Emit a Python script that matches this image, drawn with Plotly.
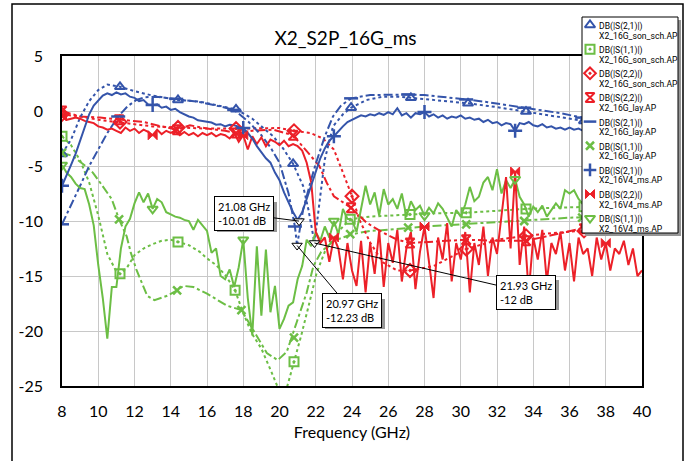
import numpy as np
import plotly.graph_objects as go

BLUE = "rgb(52,84,170)"
GREEN = "rgb(108,190,69)"
RED = "rgb(236,32,40)"

# ---------------- data ----------------
# X2_16G_son_sch.AP  DB(|S(2,1)|)  (blue, dotted)
son_s21_f = [8.0, 8.5, 9.0, 9.5, 10.0, 10.5, 11.2, 12.0, 13.0, 14.4, 15.6, 16.5, 17.6, 18.5, 19.65,
             20.2, 20.75, 21.3, 21.6, 21.93, 22.2, 22.5, 22.95, 23.5, 23.95, 24.8, 25.7, 26.5, 27.25,
             28.5, 30.4, 32.0, 33.6, 35.2, 36.8, 38.4, 40.0]
son_s21_db = [-3.9, -2.6, -0.6, 0.9, 1.9, 2.4, 2.2, 1.8, 1.4, 1.0, 0.85, 0.55, 0.15, -0.7, -2.3,
              -3.4, -4.8, -6.8, -9.0, -12.0, -8.2, -4.4, -1.4, -0.3, 0.3, 1.0, 1.3, 1.3, 1.2,
              1.0, 0.7, 0.35, -0.05, -0.5, -0.9, -1.2, -1.4]
son_s21_mk_f = [8.0, 11.2, 14.4, 17.6, 20.75, 23.95, 27.25, 30.4, 33.6, 36.8]
son_s21_mk_db = [-3.9, 2.2, 1.0, 0.15, -4.8, 0.3, 1.2, 0.7, -0.05, -0.9]

# X2_16G_son_sch.AP  DB(|S(1,1)|)  (green, dotted)
son_s11_f = [8.0, 8.5, 9.0, 9.5, 10.0, 10.5, 11.0, 11.2, 11.6, 12.0, 12.5, 13.0, 13.5, 14.0, 14.4,
             15.0, 15.6, 16.0, 16.5, 17.0, 17.55, 18.0, 18.5, 19.0, 19.5, 20.0, 20.3, 20.6, 20.8,
             21.2, 21.7, 22.05, 22.5, 23.0, 23.5, 23.9, 25.0, 26.0, 27.2, 28.5, 30.3, 32.0, 33.6,
             35.0, 36.8, 38.5, 40.0]
son_s11_db = [-2.3, -3.1, -4.5, -6.5, -9.5, -13.0, -14.6, -14.8, -14.2, -13.1, -12.5, -12.1, -11.8,
              -11.7, -11.9, -12.2, -12.8, -13.4, -14.0, -14.9, -16.3, -18.4, -20.3, -21.6, -23.5,
              -25.5, -25.8, -24.0, -22.8, -20.4, -17.1, -14.7, -12.8, -11.5, -10.5, -9.85, -9.6,
              -9.5, -9.4, -9.3, -9.25, -9.05, -8.9, -8.8, -8.7, -8.65, -8.6]
son_s11_mk_f = [8.0, 11.2, 14.4, 17.55, 20.8, 23.9, 27.2, 30.3, 33.6, 36.8]
son_s11_mk_db = [-2.3, -14.8, -11.9, -16.3, -22.8, -9.85, -9.4, -9.25, -8.9, -8.7]

# X2_16G_son_sch.AP  DB(|S(2,2)|)  (red, dotted)
son_s22_f = [8.0, 9.0, 10.0, 11.2, 12.0, 13.0, 14.4, 16.0, 17.6, 19.0, 20.0, 20.8, 21.7, 22.4, 23.0,
             23.5, 24.0, 24.4, 25.0, 25.7, 26.5, 27.2, 28.5, 30.3, 32.2, 33.6, 35.0, 36.6, 38.0, 40.0]
son_s22_db = [-0.3, -0.5, -0.8, -1.0, -1.2, -1.4, -1.5, -1.6, -1.6, -1.6, -1.55, -1.8, -2.0, -2.5,
              -3.5, -5.6, -7.75, -9.85, -11.95, -13.75, -14.5, -14.5, -14.1, -12.55, -11.65, -11.35,
              -11.1, -10.9, -10.8, -10.6]
son_s22_mk_f = [8.0, 11.2, 14.4, 17.6, 20.8, 24.0, 27.2, 30.3, 33.6, 36.8]
son_s22_mk_db = [-0.3, -1.0, -1.5, -1.6, -1.8, -7.75, -14.5, -12.55, -11.35, -10.9]

# X2_16G_lay.AP  DB(|S(2,2)|)  (red, dash-dot)
lay_s22_f = [8.0, 9.0, 10.1, 11.15, 12.5, 13.5, 14.35, 15.06, 16.0, 17.0, 17.6, 18.5, 19.65, 20.75,
             21.5, 22.2, 22.6, 23.0, 23.95, 24.8, 25.7, 26.5, 27.2, 28.5, 30.3, 32.0, 33.6, 35.0,
             36.6, 38.0, 40.0]
lay_s22_db = [0.0, -0.5, -0.6, -0.8, -1.0, -1.4, -1.7, -1.3, -1.6, -1.8, -2.0, -1.8, -1.7, -2.2,
              -3.6, -5.0, -6.5, -7.75, -8.8, -10.15, -11.05, -11.7, -12.0, -11.9, -11.7, -11.8,
              -11.8, -11.3, -10.7, -10.4, -10.1]
lay_s22_mk_f = [8.0, 11.15, 14.35, 17.6, 20.75, 23.95, 27.2, 30.3, 33.6, 36.8]
lay_s22_mk_db = [0.0, -0.8, -1.7, -2.0, -2.2, -8.8, -12.0, -11.7, -11.8, -10.7]

# X2_16G_lay.AP  DB(|S(2,1)|)  (blue, dash-dot)
lay_s21_f = [8.0, 8.5, 9.0, 9.5, 10.0, 10.5, 11.1, 11.6, 12.1, 12.6, 13.2, 14.3, 15.5, 16.5, 17.5,
             18.3, 19.0, 19.5, 20.0, 20.5, 20.85, 20.97, 21.3, 21.7, 22.0, 22.5, 22.95, 23.4, 23.95,
             25.0, 26.0, 27.1, 28.0, 29.0, 30.3, 31.5, 32.5, 33.5, 34.5, 35.5, 36.7, 38.0, 39.0, 40.0]
lay_s21_db = [-10.3, -8.6, -6.8, -5.0, -3.5, -2.0, -0.5, 0.4, 1.0, 1.25, 1.3, 1.1, 0.85, 0.5, 0.1,
              -1.0, -2.2, -3.3, -4.7, -7.5, -10.5, -12.23, -9.0, -6.5, -4.8, -2.3, -0.5, 0.5, 1.15,
              1.45, 1.5, 1.5, 1.45, 1.3, 1.05, 0.8, 0.55, 0.3, 0.05, -0.2, -0.6, -0.9, -1.1, -1.3]
lay_s21_mk_f = [8.0, 11.1, 14.3, 17.5, 20.85, 23.95, 27.1, 30.3, 33.5, 36.7]
lay_s21_mk_db = [-10.3, -0.5, 1.1, 0.1, -10.5, 1.15, 1.5, 1.05, 0.3, -0.6]

# X2_16G_lay.AP  DB(|S(1,1)|)  (green, dash-dot)
lay_s11_f = [8.0, 8.6, 9.3, 9.7, 10.1, 10.74, 11.15, 11.57, 11.8, 12.1, 12.7, 13.1, 13.8, 14.35, 14.7,
             15.25, 16.0, 17.1, 17.9, 18.7, 19.3, 19.9, 20.4, 20.95, 21.5, 21.87, 22.3, 23.0, 24.0,
             25.0, 26.0, 28.0, 30.0, 32.0, 34.0, 36.0, 38.0, 40.0]
lay_s11_db = [-3.8, -4.1, -5.0, -5.6, -6.5, -8.0, -9.85, -11.4, -12.9, -14.4, -16.8, -17.2, -16.8,
              -16.3, -15.9, -16.0, -16.6, -17.7, -18.1, -20.4, -22.0, -22.65, -21.9, -19.2, -16.5,
              -14.1, -12.8, -11.8, -11.2, -10.9, -10.8, -10.5, -10.3, -10.1, -9.9, -9.7, -9.6, -9.5]
lay_s11_mk_f = [8.0, 11.15, 14.35, 17.9, 20.8, 23.9, 27.1, 30.3, 33.5, 36.7]
lay_s11_mk_db = [-3.8, -9.85, -16.3, -18.1, -20.6, -11.2, -10.6, -10.3, -10.0, -9.7]

# X2_16V4_ms.AP measured traces, sweep 8-40 GHz in 0.25 GHz steps
ms_freq = np.linspace(8.0, 40.0, 129)
ms_s21_db = [
    -6.8, -5.9, -4.9, -3.9, -2.7, -1.3, -0.3, 0.5,
    1.0, 1.4, 1.6, 1.45, 1.7, 1.5, 1.6, 1.3,
    1.2, 0.9, 1.0, 0.6, 0.55, 0.6, 0.3, 0.4,
    0.1, 0.2, -0.1, -0.3, -0.5, -0.6, -0.85, -0.9,
    -1.0, -1.05, -1.25, -1.2, -1.4, -1.25, -1.3, -1.45,
    -1.55, -2.0, -2.5, -3.2, -3.8, -4.3, -4.7, -5.6,
    -6.3, -7.4, -8.3, -9.2, -9.9, -9.2, -8.0, -6.8,
    -5.6, -4.3, -3.4, -2.7, -2.3, -1.8, -1.4, -1.0,
    -0.8, -0.6, -0.4, -0.5, -0.3, -0.4, -0.2, -0.35,
    -0.1, -0.3, 0.25, -0.4, -0.2, -0.6, -0.2, -0.3,
    -0.1, -0.5, -0.3, -0.6, -0.4, -0.7, -0.5, -0.6,
    -0.4, -0.7, -0.6, -0.8, -0.7, -1.0, -0.8, -1.1,
    -1.0, -1.3, -1.1, -1.2, -1.8, -1.1, -1.2, -1.0,
    -1.3, -1.4, -1.2, -1.5, -1.4, -1.6, -1.5, -1.7,
    -1.5, -1.7, -1.6, -1.8, -1.7, -1.8, -1.6, -1.9,
    -1.7, -1.8, -1.9, -1.7, -1.9, -1.8, -2.0, -1.8,
    -1.9]
ms_s22_db = [
    -0.5, -0.8, -0.7, -0.6, -0.7, -0.9, -1.0, -1.1,
    -1.4, -1.5, -1.7, -1.6, -1.8, -2.0, -1.5, -1.8,
    -1.6, -2.0, -1.7, -1.9, -2.2, -1.7, -2.1, -1.8,
    -2.0, -1.8, -2.2, -1.9, -2.2, -2.0, -2.3, -2.0,
    -2.2, -2.0, -2.3, -2.1, -2.2, -2.5, -2.0, -2.8,
    -2.2, -3.5, -2.3, -3.0, -2.4, -3.2, -2.6, -2.8,
    -3.1, -2.7, -3.2, -3.0, -3.2, -3.6, -4.7, -6.5,
    -11.0, -12.0, -11.5, -13.7, -11.5, -12.5, -15.3, -12.0,
    -14.5, -15.9, -11.8, -16.5, -12.0, -14.8, -10.9, -16.0,
    -12.0, -13.8, -10.8, -15.5, -12.5, -11.0, -16.2, -12.8,
    -10.5, -14.0, -17.0, -11.5, -13.5, -10.2, -15.5, -12.0,
    -13.5, -11.0, -16.5, -12.0, -14.0, -10.5, -15.0, -11.5,
    -13.0, -9.5, -6.0, -12.5, -5.5, -14.0, -10.5, -16.5,
    -11.5, -13.5, -10.8, -15.5, -12.0, -13.0, -11.0, -14.5,
    -12.0, -15.5, -11.5, -13.0, -12.5, -15.0, -11.5, -13.5,
    -12.0, -14.5, -12.5, -13.0, -11.8, -14.0, -12.5, -15.0,
    -14.5]
ms_s11_db = [
    -4.9, -5.6, -6.0, -6.6, -7.0, -7.1, -8.5, -10.4,
    -14.0, -17.0, -20.7, -16.0, -16.0, -12.5, -10.5, -9.8,
    -8.4, -7.4, -8.3, -7.5, -8.9, -8.0, -8.3, -9.2,
    -9.4, -9.6, -9.7, -9.9, -10.0, -10.8, -9.9, -10.4,
    -10.9, -12.9, -12.5, -15.0, -15.3, -14.4, -16.0, -14.2,
    -11.7, -17.0, -20.4, -12.3, -18.6, -12.6, -18.3, -15.9,
    -19.8, -18.9, -17.7, -17.4, -15.3, -14.1, -11.7, -12.3,
    -11.0, -11.8, -10.5, -11.5, -10.0, -11.2, -8.9, -9.8,
    -9.9, -11.0, -9.0, -6.8, -8.5, -7.4, -9.5, -7.1,
    -8.5, -8.0, -8.9, -7.5, -9.6, -8.2, -9.0, -8.6,
    -9.5, -8.8, -9.3, -8.4, -8.9, -9.7, -10.5, -9.0,
    -9.6, -8.5, -6.9, -8.2, -7.8, -6.5, -6.0, -7.2,
    -5.3, -7.5, -6.3, -7.0, -6.2, -7.8, -8.5, -9.6,
    -8.7, -9.2, -8.6, -9.6, -9.0, -8.4, -8.9, -7.2,
    -7.5, -7.2, -8.0, -8.5, -8.2, -8.8, -9.0, -8.6,
    -9.0, -8.7, -9.2, -8.8, -9.1, -8.9, -9.3, -9.0,
    -9.1]
ms_marker_step = 20  # a marker every 20th measured point

# graph markers
mk_freq = [21.08, 20.97, 21.93]
mk_db = [-10.01, -12.23, -12.0]
mk_label = ["21.08 GHz<br>-10.01 dB", "20.97 GHz<br>-12.23 dB", "21.93 GHz<br>-12 dB"]

# legend entries
leg_names = [("DB(|S(2,1)|)", "X2_16G_son_sch.AP"), ("DB(|S(1,1)|)", "X2_16G_son_sch.AP"),
             ("DB(|S(2,2)|)", "X2_16G_son_sch.AP"), ("DB(|S(2,2)|)", "X2_16G_lay.AP"),
             ("DB(|S(2,1)|)", "X2_16G_lay.AP"), ("DB(|S(1,1)|)", "X2_16G_lay.AP"),
             ("DB(|S(2,1)|)", "X2_16V4_ms.AP"), ("DB(|S(2,2)|)", "X2_16V4_ms.AP"),
             ("DB(|S(1,1)|)", "X2_16V4_ms.AP")]

x_ticks = list(range(8, 41, 2))
y_ticks = [5, 0, -5, -10, -15, -20, -25]
y_tick_text = ["5", "0", "-5", "-10", "-15", "-20", "-25"]

# ---------------- geometry (pixels) ----------------
W, H = 691, 461
PL, PR, PT, PB = 62, 642, 56, 386          # plot-area edges
X_RANGE, Y_RANGE = [8, 40], [-25, 5]


def fx(f):
    return PL + (f - X_RANGE[0]) * (PR - PL) / (X_RANGE[1] - X_RANGE[0])


def fy(d):
    return PT + (Y_RANGE[1] - d) * (PB - PT) / (Y_RANGE[1] - Y_RANGE[0])


FONT = "Lato, 'Open Sans', sans-serif"
LEGFONT = "Roboto, 'Liberation Sans', sans-serif"

fig = go.Figure()

# ---------- curves (z-order) ----------
lines = [
    (son_s11_f, son_s11_db, GREEN, "dot"),
    (lay_s11_f, lay_s11_db, GREEN, "dashdot"),
    (son_s22_f, son_s22_db, RED, "dot"),
    (lay_s22_f, lay_s22_db, RED, "dashdot"),
    (son_s21_f, son_s21_db, BLUE, "dot"),
    (lay_s21_f, lay_s21_db, BLUE, "dashdot"),
    (ms_freq, ms_s11_db, GREEN, "solid"),
    (ms_freq, ms_s22_db, RED, "solid"),
    (ms_freq, ms_s21_db, BLUE, "solid"),
]
for f, d, c, dash in lines:
    fig.add_trace(go.Scatter(x=f, y=d, mode="lines", showlegend=False, hoverinfo="skip",
                             line=dict(color=c, width=2, dash=dash)))

# ---------- markers ----------
ms_idx = list(range(0, len(ms_freq), ms_marker_step))
styles = [
    (BLUE, "triangle-up-open", 9, 2),
    (GREEN, "square-open-dot", 9, 2),
    (RED, "diamond-open-dot", 10, 2),
    (RED, "hourglass-open", 9, 2),
    (BLUE, "line-ew", 10, 2.5),
    (GREEN, "x-thin", 8, 2.5),
    (BLUE, "cross-thin", 10, 2.5),
    (RED, "bowtie", 9, 1),
    (GREEN, "triangle-down-open", 9, 2),
]
marker_data = [
    (son_s21_mk_f, son_s21_mk_db), (son_s11_mk_f, son_s11_mk_db), (son_s22_mk_f, son_s22_mk_db),
    (lay_s22_mk_f, lay_s22_mk_db), (lay_s21_mk_f, lay_s21_mk_db), (lay_s11_mk_f, lay_s11_mk_db),
    ([ms_freq[i] for i in ms_idx], [ms_s21_db[i] for i in ms_idx]),
    ([ms_freq[i] for i in ms_idx], [ms_s22_db[i] for i in ms_idx]),
    ([ms_freq[i] for i in ms_idx], [ms_s11_db[i] for i in ms_idx]),
]
for (f, d), (c, sym, sz, lw), (n1, n2) in zip(marker_data, styles, leg_names):
    fig.add_trace(go.Scatter(x=f, y=d, mode="markers", name=n1 + " " + n2, showlegend=False,
                             hoverinfo="skip",
                             marker=dict(symbol=sym, size=sz, color=c, line=dict(color=c, width=lw))))

# graph-marker points
fig.add_trace(go.Scatter(x=mk_freq, y=mk_db, mode="markers", showlegend=False, hoverinfo="skip",
                         marker=dict(symbol="triangle-down", size=9, color="white",
                                     line=dict(color="black", width=1))))

# ---------- marker readout boxes ----------
box_center = [(244, 214), (352, 311), (526, 292)]   # box centres in pixels
box_w, box_h = 60, 30
for f, d, t, (cx, cy) in zip(mk_freq, mk_db, mk_label, box_center):
    fig.add_shape(type="rect", xref="x2", yref="y2", layer="above",
                  x0=cx - box_w / 2 + 3, x1=cx + box_w / 2 + 3,
                  y0=cy - box_h / 2 + 3, y1=cy + box_h / 2 + 3,
                  line=dict(width=0), fillcolor="rgb(150,150,150)")
    fig.add_annotation(x=f, y=d, text=t, showarrow=True, ax=cx - fx(f), ay=cy - fy(d),
                       arrowhead=0, arrowwidth=1, arrowcolor="black", align="left",
                       font=dict(family=FONT, size=11, color="black"),
                       bgcolor="white", bordercolor="black", borderwidth=1, borderpad=3)

# ---------- legend (drawn on a pixel-space overlay) ----------
LX0, LX1, LY0, LY1 = 582, 678, 17, 233
fig.add_trace(go.Scatter(x=[LX0 + 3, LX1 + 3, LX1 + 3, LX0 + 3, LX0 + 3],
                         y=[LY0 + 3, LY0 + 3, LY1 + 3, LY1 + 3, LY0 + 3],
                         xaxis="x2", yaxis="y2", mode="lines", fill="toself",
                         fillcolor="rgb(150,150,150)", line=dict(width=0),
                         showlegend=False, hoverinfo="skip"))
fig.add_trace(go.Scatter(x=[LX0, LX1, LX1, LX0, LX0], y=[LY0, LY0, LY1, LY1, LY0],
                         xaxis="x2", yaxis="y2", mode="lines", fill="toself",
                         fillcolor="white", line=dict(color="black", width=1),
                         showlegend=False, hoverinfo="skip"))
row_h = 24.15
for i, ((c, sym, sz, lw), (n1, n2)) in enumerate(zip(styles, leg_names)):
    ys = LY0 + 8 + row_h * i
    fig.add_trace(go.Scatter(x=[590], y=[ys], xaxis="x2", yaxis="y2", mode="markers",
                             name=n1 + " " + n2, showlegend=False, hoverinfo="skip",
                             cliponaxis=False,
                             marker=dict(symbol=sym, size=min(sz, 9), color=c,
                                         line=dict(color=c, width=lw))))
    for txt, dy in ((n1, 1.5), (n2, 10.5)):
        fig.add_annotation(xref="x2", yref="y2", x=597, y=ys + dy, text=txt, showarrow=False,
                           xanchor="left", yanchor="middle",
                           font=dict(family=LEGFONT, size=8.6, color="black"))

# outer frame
fig.add_shape(type="rect", xref="x2", yref="y2", x0=12, x1=683, y0=4, y1=475, layer="above",
              line=dict(color="black", width=1.5), fillcolor="rgba(0,0,0,0)")

axis_common = dict(showgrid=True, gridcolor="rgb(200,200,200)", gridwidth=1,
                   showline=True, linecolor="black", linewidth=1.5, mirror=True,
                   zeroline=False, ticks="outside", tickcolor="rgba(0,0,0,0)",
                   automargin=False,
                   tickfont=dict(family=FONT, size=16, color="black"))

fig.update_layout(
    width=W, height=H,
    margin=dict(l=0, r=0, t=0, b=0, pad=0, autoexpand=False),
    paper_bgcolor="white", plot_bgcolor="rgba(0,0,0,0)",
    showlegend=False,
    title=dict(text="X2_S2P_16G_ms", x=0.5, xref="container", xanchor="center",
               y=1 - 38 / H, yref="container", yanchor="middle", automargin=False,
               font=dict(family=FONT, size=19, color="black")),
    xaxis=dict(domain=[PL / W, PR / W], range=X_RANGE, tickvals=x_ticks, ticklen=10,
               anchor="y",
               title=dict(text="Frequency (GHz)", standoff=8,
                          font=dict(family=FONT, size=16, color="black")),
               **axis_common),
    yaxis=dict(domain=[(H - PB) / H, (H - PT) / H], range=Y_RANGE, tickvals=y_ticks,
               ticktext=y_tick_text, ticklen=14, anchor="x", **axis_common),
    xaxis2=dict(domain=[0, 1], range=[0, W], visible=False, anchor="y2", fixedrange=True,
                automargin=False),
    yaxis2=dict(domain=[0, 1], range=[H, 0], visible=False, anchor="x2", fixedrange=True,
                automargin=False),
)

fig.write_html("out.html")
